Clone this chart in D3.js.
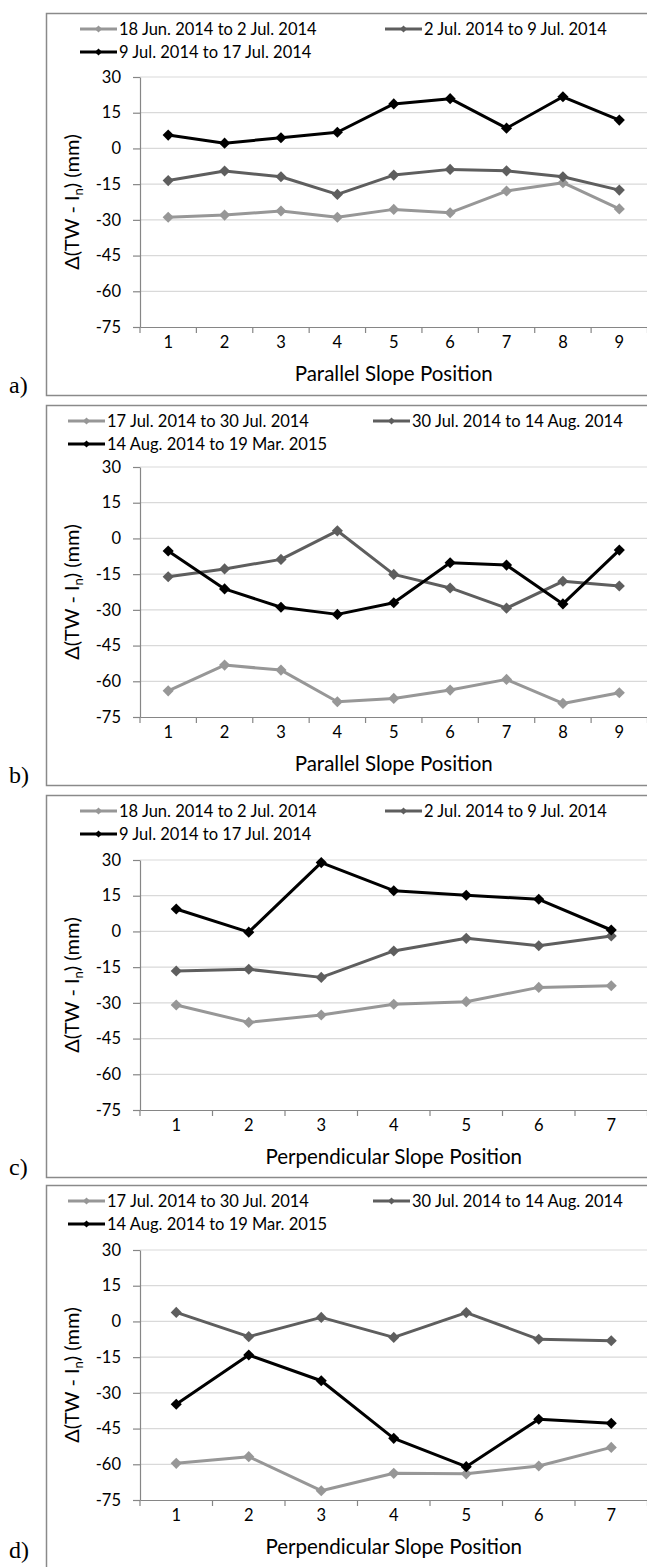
<!DOCTYPE html>
<html>
<head>
<meta charset="utf-8">
<script src="https://cdn.jsdelivr.net/npm/d3@7"></script>
<style>
  html, body { margin: 0; padding: 0; background: #fff; }
  svg { display: block; }
</style>
</head>
<body>
<script>
// ---------- DATA ----------
const parallelPositions = [1, 2, 3, 4, 5, 6, 7, 8, 9];
const perpendicularPositions = [1, 2, 3, 4, 5, 6, 7];
const yTicks = [30, 15, 0, -15, -30, -45, -60, -75];

const seriesNamesEarly = ["18 Jun. 2014 to 2 Jul. 2014", "2 Jul. 2014 to 9 Jul. 2014", "9 Jul. 2014 to 17 Jul. 2014"];
const seriesNamesLate = ["17 Jul. 2014 to 30 Jul. 2014", "30 Jul. 2014 to 14 Aug. 2014", "14 Aug. 2014 to 19 Mar. 2015"];

// a) parallel, early periods
const aJun18toJul2 = [-28.9, -28.0, -26.3, -28.9, -25.6, -27.0, -17.9, -14.4, -25.4];
const aJul2toJul9 = [-13.5, -9.5, -11.9, -19.3, -11.2, -8.8, -9.4, -11.9, -17.5];
const aJul9toJul17 = [5.6, 2.2, 4.5, 6.8, 18.7, 20.9, 8.5, 21.7, 11.9];
// b) parallel, late periods
const bJul17toJul30 = [-64.0, -53.2, -55.3, -68.6, -67.2, -63.7, -59.2, -69.3, -64.8];
const bJul30toAug14 = [-16.1, -12.8, -8.8, 3.2, -15.1, -20.8, -29.3, -18.0, -20.0];
const bAug14toMar19 = [-5.3, -21.2, -28.9, -31.9, -27.0, -10.2, -11.2, -27.5, -4.9];
// c) perpendicular, early periods
const cJun18toJul2 = [-30.9, -38.2, -35.1, -30.6, -29.5, -23.5, -22.8];
const cJul2toJul9 = [-16.6, -15.9, -19.3, -8.2, -2.9, -6.0, -1.9];
const cJul9toJul17 = [9.4, -0.3, 28.9, 17.1, 15.2, 13.5, 0.6];
// d) perpendicular, late periods
const dJul17toJul30 = [-59.6, -56.8, -71.1, -63.8, -64.0, -60.7, -52.9];
const dJul30toAug14 = [3.8, -6.4, 1.7, -6.7, 3.7, -7.5, -8.1];
const dAug14toMar19 = [-34.8, -14.1, -24.9, -49.1, -61.0, -41.1, -42.8];

// ---------- LAYOUT / STYLE ----------
const W = 647, H = 1567;
const seriesColors = ["#979797", "#5e5e5e", "#000000"];
const FONT = "Lato, 'Open Sans', sans-serif";

const panels = [
  { tag: "a)", top: 13, bottom: 395, plotTop: 77, cats: parallelPositions, names: seriesNamesEarly,
    data: [aJun18toJul2, aJul2toJul9, aJul9toJul17], xTitle: "Parallel Slope Position", legX: [80, 385] },
  { tag: "b)", top: 405, bottom: 785, plotTop: 467, cats: parallelPositions, names: seriesNamesLate,
    data: [bJul17toJul30, bJul30toAug14, bAug14toMar19], xTitle: "Parallel Slope Position", legX: [68, 373] },
  { tag: "c)", top: 795, bottom: 1177, plotTop: 860, cats: perpendicularPositions, names: seriesNamesEarly,
    data: [cJun18toJul2, cJul2toJul9, cJul9toJul17], xTitle: "Perpendicular Slope Position", legX: [80, 385] },
  { tag: "d)", top: 1185, bottom: 1580, plotTop: 1250, cats: perpendicularPositions, names: seriesNamesLate,
    data: [dJul17toJul30, dJul30toAug14, dAug14toMar19], xTitle: "Perpendicular Slope Position", legX: [68, 373] }
];

const plotLeft = 140, plotRight = 647.5, plotH = 250;

const svg = d3.select("body").append("svg")
  .attr("width", W).attr("height", H)
  .attr("viewBox", `0 0 ${W} ${H}`);
svg.append("rect").attr("width", W).attr("height", H).attr("fill", "#fff");

const diamond = d3.symbol().type(d3.symbolSquare);

panels.forEach(p => {
  const g = svg.append("g");
  // frame
  g.append("rect")
    .attr("x", 46.5).attr("y", p.top + 0.5)
    .attr("width", 720).attr("height", p.bottom - p.top)
    .attr("fill", "none").attr("stroke", "#8a8a8a").attr("stroke-width", 1.5);

  // panel tag
  svg.append("text")
    .attr("x", 9).attr("y", Math.min(p.bottom - 2, 1558))
    .attr("font-family", "'Liberation Serif', 'Times New Roman', serif")
    .attr("font-size", 24).attr("fill", "#000")
    .text(p.tag);

  const y = d3.scaleLinear().domain([-75, 30]).range([p.plotTop + plotH, p.plotTop]);
  const x = d3.scaleBand().domain(p.cats).range([plotLeft, plotRight]).padding(0);
  const cx = d => x(d) + x.bandwidth() / 2;

  // gridlines
  g.append("g").selectAll("line")
    .data(yTicks.filter(t => t !== -75))
    .join("line")
    .attr("x1", plotLeft).attr("x2", plotRight)
    .attr("y1", d => y(d)).attr("y2", d => y(d))
    .attr("stroke", "#d9d9d9").attr("stroke-width", 1.2);

  // y axis
  const yAxis = g.append("g")
    .attr("transform", `translate(${plotLeft},0)`)
    .call(d3.axisLeft(y).tickValues(yTicks).tickSize(7).tickSizeOuter(0).tickPadding(12)
      .tickFormat(d => String(d)));
  yAxis.select(".domain").attr("stroke", "#868686").attr("stroke-width", 1.2);
  yAxis.selectAll(".tick line").attr("stroke", "#868686").attr("stroke-width", 1.2);
  yAxis.selectAll(".tick text").attr("font-family", FONT).attr("font-size", 16.5).attr("fill", "#000");

  // x axis: labels at band centers, ticks at band boundaries
  const xAxis = g.append("g")
    .attr("transform", `translate(0,${p.plotTop + plotH})`)
    .call(d3.axisBottom(x).tickSize(0).tickPadding(9).tickSizeOuter(0));
  xAxis.select(".domain").attr("stroke", "#868686").attr("stroke-width", 1.2);
  xAxis.selectAll(".tick text").attr("font-family", FONT).attr("font-size", 16.5).attr("fill", "#000");
  g.append("g").selectAll("line")
    .data(p.cats.map(d => x(d)).concat([x.range()[1]]))
    .join("line")
    .attr("x1", d => d).attr("x2", d => d)
    .attr("y1", p.plotTop + plotH).attr("y2", p.plotTop + plotH + 6)
    .attr("stroke", "#868686").attr("stroke-width", 1.2);

  // x title
  g.append("text")
    .attr("x", (plotLeft + plotRight) / 2).attr("y", p.plotTop + plotH + 54)
    .attr("text-anchor", "middle")
    .attr("font-family", FONT).attr("font-size", 20.5).attr("fill", "#000")
    .text(p.xTitle);

  // y title
  const yt = g.append("text")
    .attr("transform", `translate(79,${p.plotTop + plotH / 2}) rotate(-90)`)
    .attr("text-anchor", "middle")
    .attr("font-family", FONT).attr("font-size", 20).attr("fill", "#000");
  yt.append("tspan").text("\u0394(TW - I");
  yt.append("tspan").attr("font-size", 13).attr("dy", 4).text("n");
  yt.append("tspan").attr("dy", -4).text(") (mm)");

  // series
  const line = d3.line().x((d, i) => cx(p.cats[i])).y(d => y(d));
  p.data.forEach((vals, si) => {
    g.append("path")
      .attr("d", line(vals))
      .attr("fill", "none")
      .attr("stroke", seriesColors[si])
      .attr("stroke-width", 3)
      .attr("stroke-linejoin", "round");
    g.append("g").selectAll("path")
      .data(vals)
      .join("path")
      .attr("d", diamond.size(62)())
      .attr("transform", (d, i) => `translate(${cx(p.cats[i])},${y(d)}) rotate(45)`)
      .attr("fill", seriesColors[si]);
  });

  // legend
  p.names.forEach((name, si) => {
    const row = si < 2 ? 0 : 1;
    const col = si === 1 ? 1 : 0;
    const lx = p.legX[col];
    const ly = p.top + (row === 0 ? 16 : 39);
    const lg = g.append("g");
    lg.append("line")
      .attr("x1", lx).attr("x2", lx + 37).attr("y1", ly).attr("y2", ly)
      .attr("stroke", seriesColors[si]).attr("stroke-width", 3);
    lg.append("path")
      .attr("d", diamond.size(26)())
      .attr("transform", `translate(${lx + 18.5},${ly}) rotate(45)`)
      .attr("fill", seriesColors[si]);
    lg.append("text")
      .attr("x", lx + 39).attr("y", ly)
      .attr("dy", "0.35em")
      .attr("font-family", FONT).attr("font-size", 16.5).attr("fill", "#000")
      .text(name);
  });
});
</script>
</body>
</html>
